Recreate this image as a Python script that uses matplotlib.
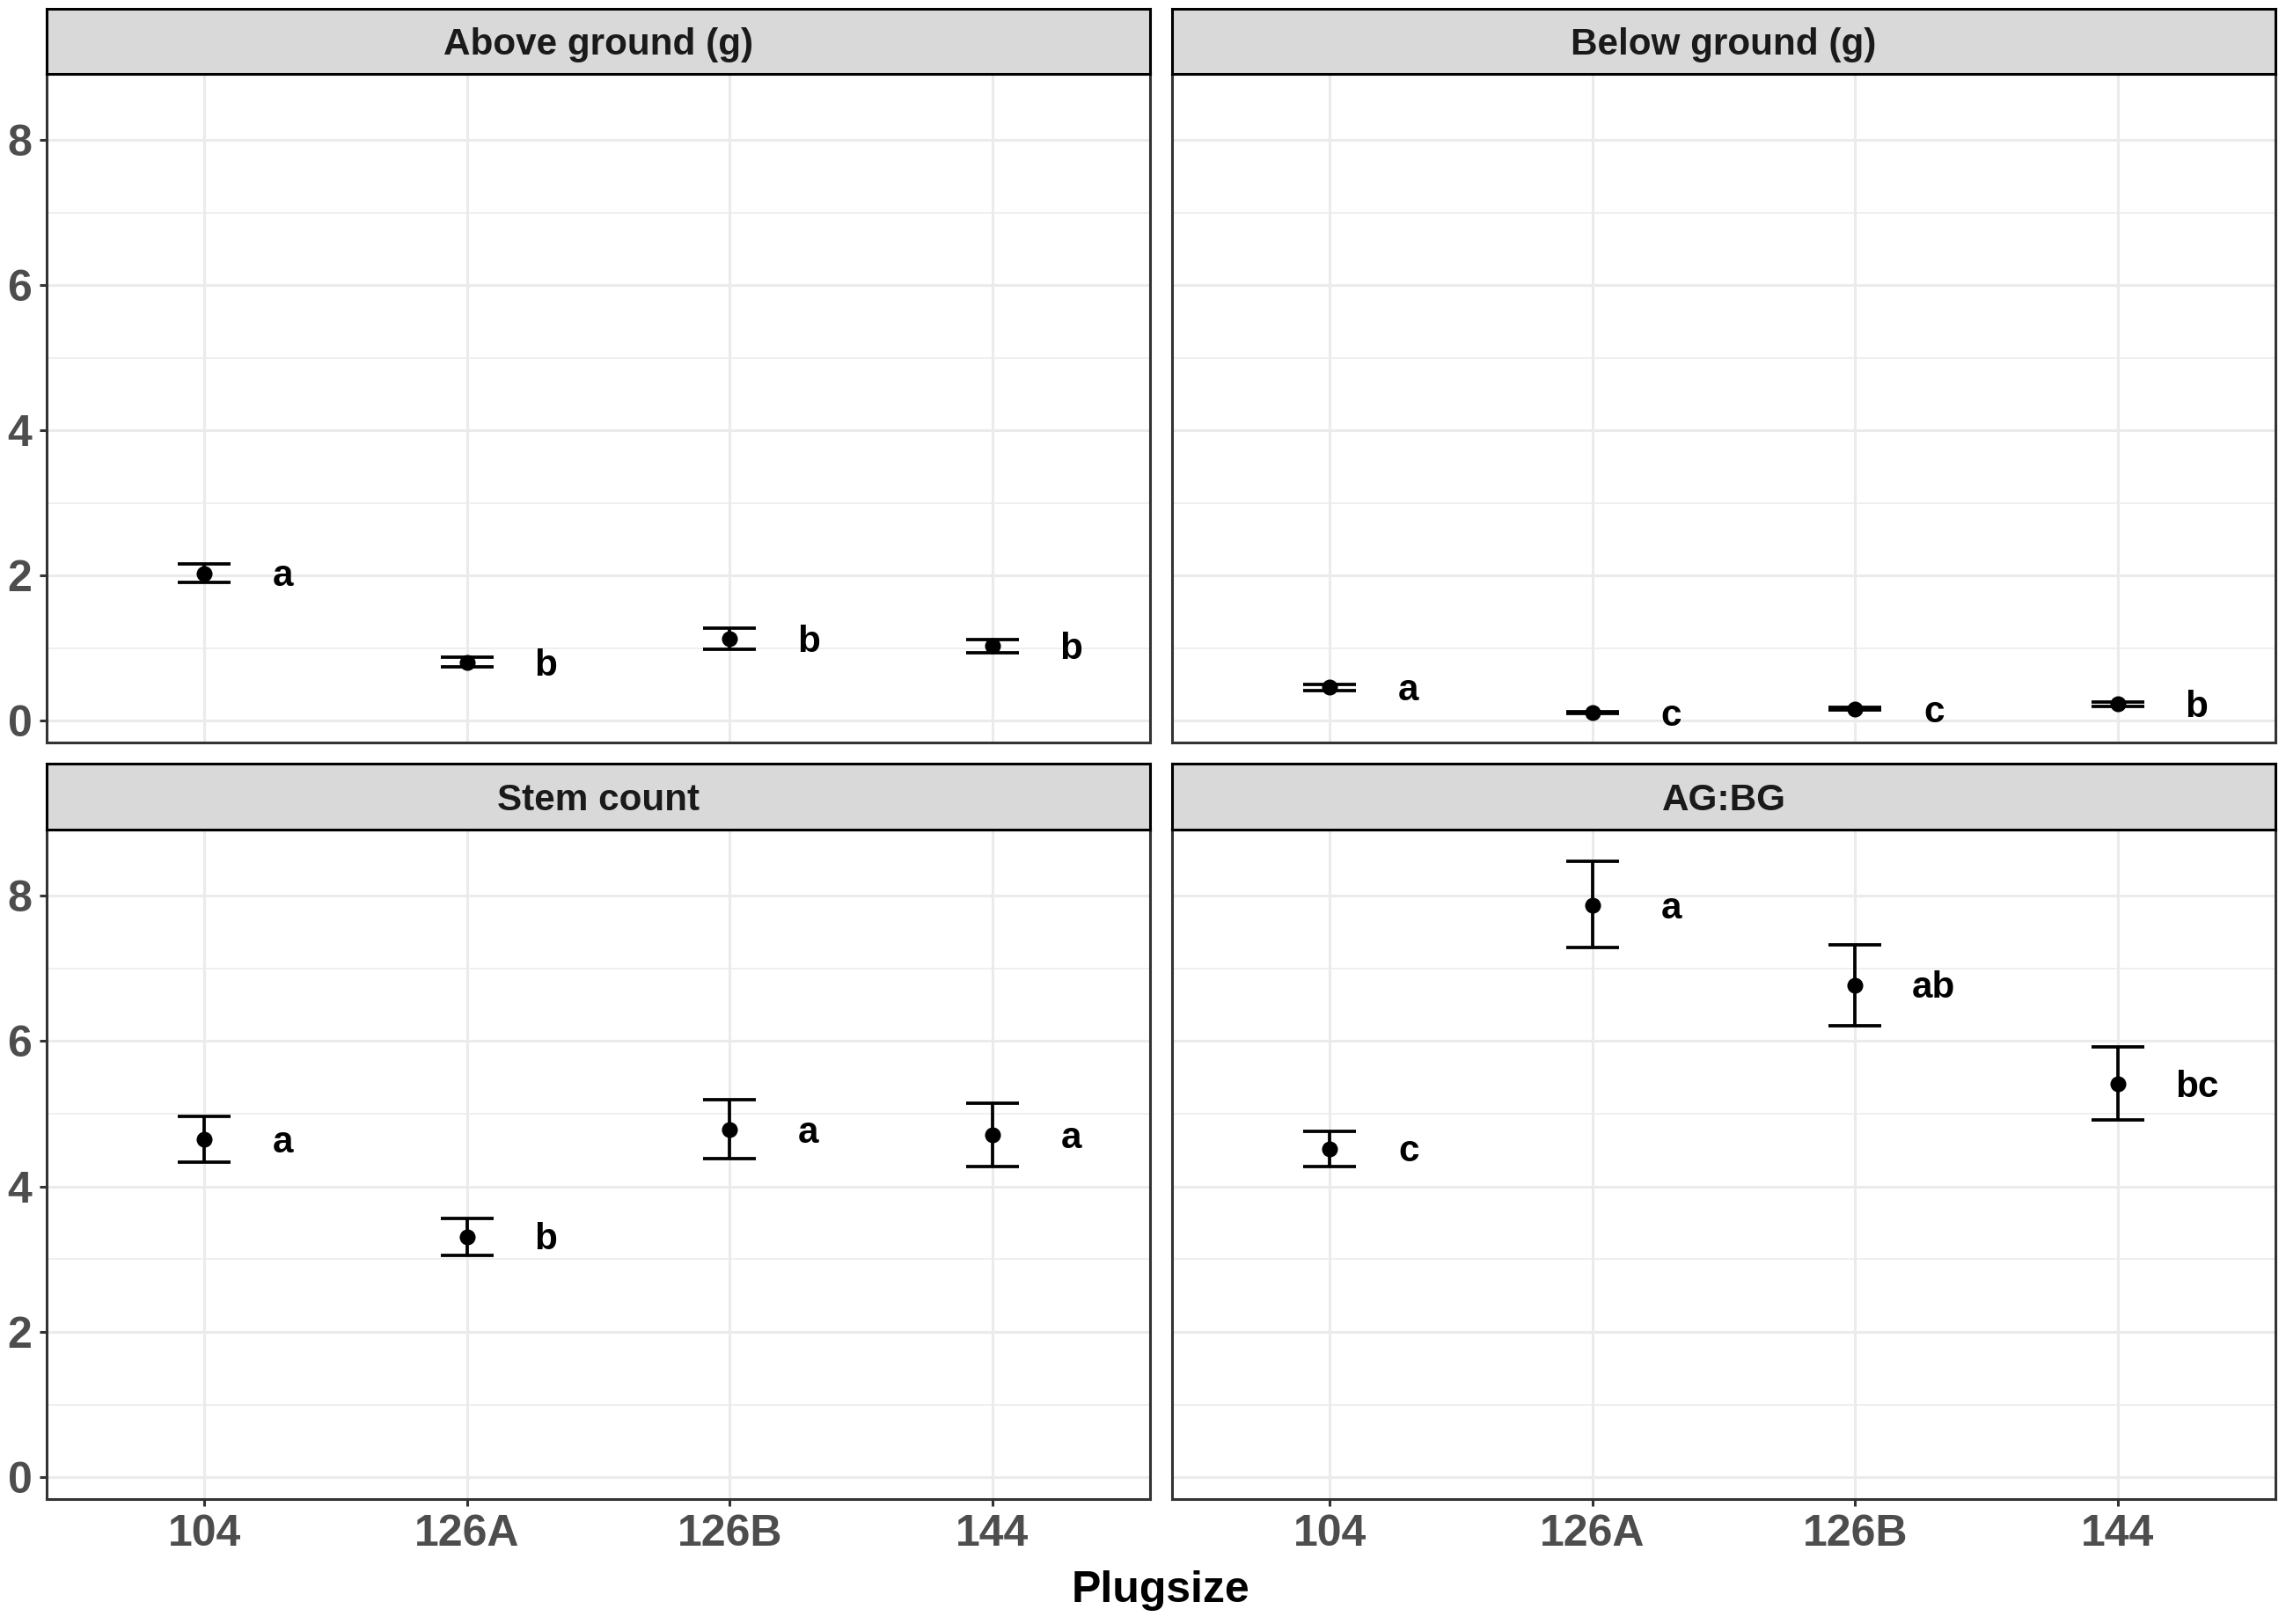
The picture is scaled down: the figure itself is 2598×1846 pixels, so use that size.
import numpy as np
import matplotlib
matplotlib.use("Agg")
import matplotlib.pyplot as plt
from matplotlib.ticker import MultipleLocator

plt.rcParams["font.family"] = ["Liberation Sans", "DejaVu Sans"]
plt.rcParams["font.weight"] = "bold"

W, H, DPI = 2598, 1846, 200

# Data (mean and error-bar limits per plug size)
CATS = ["104", "126A", "126B", "144"]
PANELS = ["Above ground (g)", "Below ground (g)", "Stem count", "AG:BG"]

above_mean = [2.03, 0.80, 1.13, 1.03]
above_lo = [1.90, 0.74, 0.99, 0.94]
above_hi = [2.16, 0.87, 1.27, 1.12]
above_let = ["a", "b", "b", "b"]

below_mean = [0.46, 0.11, 0.16, 0.23]
below_lo = [0.42, 0.10, 0.15, 0.20]
below_hi = [0.50, 0.12, 0.18, 0.26]
below_let = ["a", "c", "c", "b"]

stem_mean = [4.65, 3.31, 4.78, 4.71]
stem_lo = [4.33, 3.05, 4.38, 4.27]
stem_hi = [4.97, 3.56, 5.20, 5.15]
stem_let = ["a", "b", "a", "a"]

agbg_mean = [4.52, 7.87, 6.77, 5.41]
agbg_lo = [4.28, 7.29, 6.21, 4.92]
agbg_hi = [4.76, 8.48, 7.32, 5.92]
agbg_let = ["c", "a", "ab", "bc"]

SERIES = [
    (above_mean, above_lo, above_hi, above_let),
    (below_mean, below_lo, below_hi, below_let),
    (stem_mean, stem_lo, stem_hi, stem_let),
    (agbg_mean, agbg_lo, agbg_hi, agbg_let),
]

# panel boxes in pixels: (x0, x1) columns, (strip_top, panel_top, panel_bottom) rows
COLS = [(53, 1307), (1332, 2586)]
ROWS = [(10, 84, 844), (868, 943, 1704)]

GRID = "#EBEBEB"
BORDER = "#333333"
TICKC = "#4D4D4D"


def fig_rect(x0, x1, y0, y1):
    return [x0 / W, 1 - y1 / H, (x1 - x0) / W, (y1 - y0) / H]


fig = plt.figure(figsize=(W / DPI, H / DPI), dpi=DPI)
x = np.arange(1, len(CATS) + 1)

for i, (title, (m, lo, hi, let)) in enumerate(zip(PANELS, SERIES)):
    r, c = divmod(i, 2)
    cx0, cx1 = COLS[c]
    st, pt, pb = ROWS[r]

    ax = fig.add_axes(fig_rect(cx0, cx1, pt, pb))
    ax.set_xlim(0.4, 4.6)
    ax.set_ylim(-0.30, 8.91)
    ax.yaxis.set_major_locator(MultipleLocator(2))
    ax.yaxis.set_minor_locator(MultipleLocator(1))
    ax.set_xticks(x)
    ax.set_axisbelow(True)
    ax.grid(True, which="major", color=GRID, lw=1.1)
    ax.grid(True, which="minor", axis="y", color=GRID, lw=0.55)
    for s in ax.spines.values():
        s.set_color(BORDER)
        s.set_linewidth(1.1)
    ax.tick_params(which="minor", length=0)
    ax.tick_params(which="major", length=3, width=1.1, color=BORDER,
                   labelcolor=TICKC, labelsize=18, pad=3)

    ax.vlines(x, lo, hi, color="black", lw=1.35, zorder=3)
    ax.hlines(lo, x - 0.1, x + 0.1, color="black", lw=1.35, zorder=3)
    ax.hlines(hi, x - 0.1, x + 0.1, color="black", lw=1.35, zorder=3)
    ax.plot(x, m, "o", color="black", ms=5.5, zorder=4)
    for xi, yi, t in zip(x, m, let):
        ax.annotate(t, (xi + 0.3, yi), xytext=(0, -1.3),
                    textcoords="offset points", ha="center", va="center",
                    fontsize=15.2, fontweight="bold", color="black")

    if r == 1:
        ax.set_xticklabels(CATS)
    else:
        ax.tick_params(axis="x", length=0, labelbottom=False)
    if c == 1:
        ax.tick_params(axis="y", length=0, labelleft=False)

    sax = fig.add_axes(fig_rect(cx0, cx1, st, pt))
    sax.set_facecolor("#D9D9D9")
    sax.set_xticks([])
    sax.set_yticks([])
    for s in sax.spines.values():
        s.set_color("black")
        s.set_linewidth(1.1)
    sax.annotate(title, (0.5, 0.5), xycoords="axes fraction",
                 xytext=(0, -1.6), textcoords="offset points",
                 ha="center", va="center", fontsize=15.2,
                 fontweight="bold", color="#1A1A1A")

fig.text((53 + 2586) / 2 / W, 1 - 1808 / H, "Plugsize", ha="center",
         va="center", fontsize=18, fontweight="bold", color="black")

fig.savefig("out.png", dpi=DPI, facecolor="white")
